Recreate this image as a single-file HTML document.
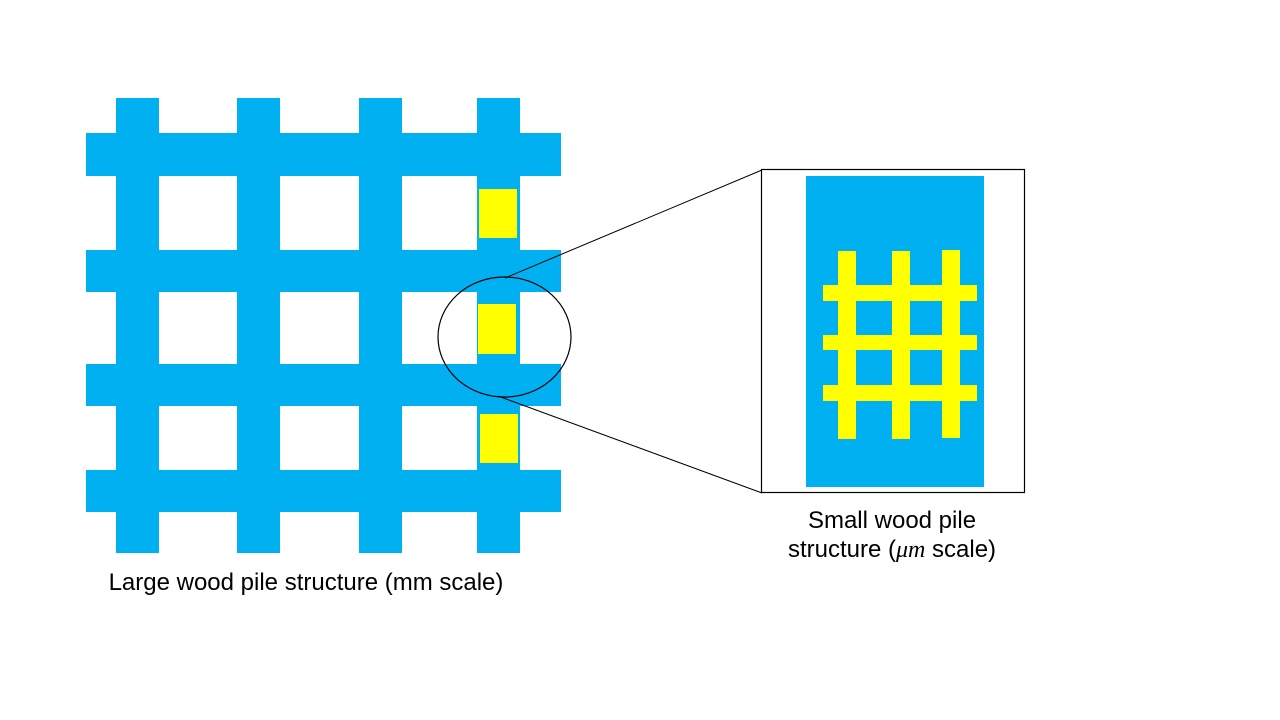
<!DOCTYPE html>
<html><head><meta charset="utf-8"><style>
html,body{margin:0;padding:0;background:#fff;}
svg{display:block;}
text{font-family:"Liberation Sans",sans-serif;font-size:24px;fill:#000;}
</style></head><body>
<svg width="1280" height="720" viewBox="0 0 1280 720" xmlns="http://www.w3.org/2000/svg">
<g fill="#00B0F0">
<rect x="116" y="98" width="43" height="455"/>
<rect x="237" y="98" width="43" height="455"/>
<rect x="359" y="98" width="43" height="455"/>
<rect x="477" y="98" width="43" height="455"/>
<rect x="86" y="133" width="475" height="43"/>
<rect x="86" y="250" width="475" height="42"/>
<rect x="86" y="364" width="475" height="42"/>
<rect x="86" y="470" width="475" height="42"/>
</g>
<g fill="#FFFF00">
<rect x="479" y="189" width="38" height="49"/>
<rect x="478" y="304" width="38" height="50"/>
<rect x="480" y="414" width="38" height="49"/>
</g>
<ellipse cx="504.5" cy="337" rx="66.5" ry="60" fill="none" stroke="#000" stroke-width="1.2"/>
<line x1="505" y1="278" x2="762" y2="170" stroke="#000" stroke-width="1"/>
<line x1="498" y1="396" x2="762" y2="493" stroke="#000" stroke-width="1"/>
<rect x="761.5" y="169.5" width="263" height="323" fill="#fff" stroke="#000" stroke-width="1.2"/>
<rect x="806" y="176" width="178" height="311" fill="#00B0F0"/>
<g fill="#FFFF00">
<rect x="838" y="251" width="18" height="188"/>
<rect x="892" y="251" width="18" height="188"/>
<rect x="942" y="250" width="18" height="188"/>
<rect x="823" y="285" width="154" height="16"/>
<rect x="823" y="335" width="154" height="15"/>
<rect x="823" y="385" width="154" height="16"/>
</g>
<text x="306" y="590" text-anchor="middle">Large wood pile structure (mm scale)</text>
<text x="892" y="528" text-anchor="middle">Small wood pile</text>
<text x="892" y="557" text-anchor="middle">structure (<tspan font-family="Liberation Serif" font-style="italic">μm</tspan> scale)</text>
</svg>
</body></html>
